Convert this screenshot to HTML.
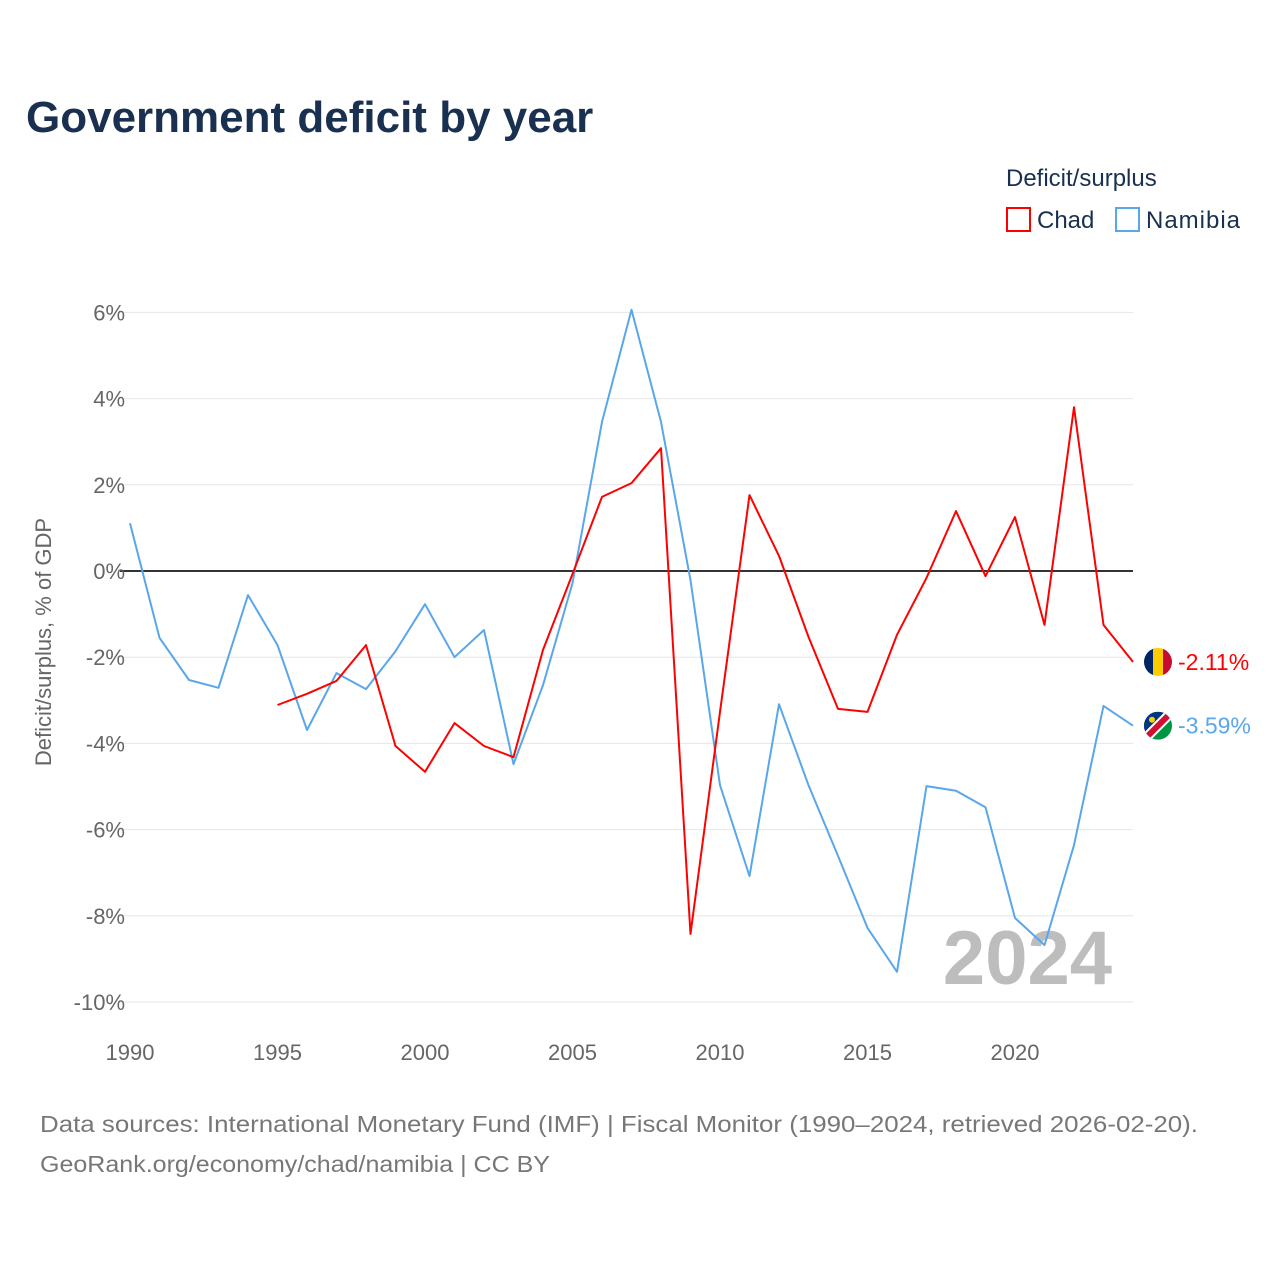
<!DOCTYPE html>
<html><head><meta charset="utf-8"><style>
body{margin:0;background:#fff;}
svg text{font-family:"Liberation Sans",sans-serif;}
</style></head><body>
<svg id="chart" width="1280" height="1280" xmlns="http://www.w3.org/2000/svg">
<rect width="1280" height="1280" fill="#fff"/>
<text x="26" y="132" font-size="44" font-weight="bold" fill="#1a3050">Government deficit by year</text>
<g>
<text x="1006" y="186" font-size="24" fill="#1a3050">Deficit/surplus</text>
<g><rect x="1007" y="208" width="23" height="23" fill="none" stroke="#f00" stroke-width="2"/><text x="1037" y="228" font-size="24" fill="#1a3050">Chad</text></g>
<g><rect x="1116" y="208" width="23" height="23" fill="none" stroke="#5aa6ea" stroke-width="2"/><text x="1146" y="228" font-size="24" fill="#1a3050" textLength="94">Namibia</text></g>
</g>
<g id="grid"></g>
<text x="1112" y="984" font-size="76" font-weight="bold" fill="#bdbdbd" text-anchor="end">2024</text>
<g id="series"></g>
<text transform="translate(51,642) rotate(-90)" font-size="22" fill="#666" text-anchor="middle">Deficit/surplus, % of GDP</text>
<text x="40" y="1132" font-size="23" fill="#777" textLength="1158" lengthAdjust="spacingAndGlyphs">Data sources: International Monetary Fund (IMF) | Fiscal Monitor (1990–2024, retrieved 2026-02-20).</text>
<text x="40" y="1172" font-size="23" fill="#777" textLength="510" lengthAdjust="spacingAndGlyphs">GeoRank.org/economy/chad/namibia | CC BY</text>
</svg>
<script>
const years=[1990,1991,1992,1993,1994,1995,1996,1997,1998,1999,2000,2001,2002,2003,2004,2005,2006,2007,2008,2009,2010,2011,2012,2013,2014,2015,2016,2017,2018,2019,2020,2021,2022,2023,2024];
const namibiaValues=[1.11,-1.55,-2.53,-2.71,-0.56,-1.72,-3.69,-2.37,-2.74,-1.86,-0.77,-2.0,-1.37,-4.48,-2.65,-0.28,3.46,6.06,3.46,-0.21,-4.97,-7.08,-3.09,-4.97,-6.61,-8.28,-9.30,-4.99,-5.1,-5.48,-8.05,-8.68,-6.36,-3.13,-3.59];
const chadValues=[null,null,null,null,null,-3.11,-2.85,-2.55,-1.72,-4.06,-4.66,-3.53,-4.06,-4.32,-1.83,-0.07,1.72,2.04,2.85,-8.42,-3.27,1.76,0.35,-1.53,-3.2,-3.27,-1.48,-0.16,1.39,-0.12,1.25,-1.25,3.8,-1.25,-2.11];
const yTicks=[6,4,2,0,-2,-4,-6,-8,-10];
const xTicks=[1990,1995,2000,2005,2010,2015,2020];
const NS='http://www.w3.org/2000/svg';
const X=y=>130+(y-1990)*(1133-130)/34;
const Y=v=>571-v*43.1;
const grid=document.getElementById('grid'),series=document.getElementById('series');
function mk(tag,attrs,parent){const e=document.createElementNS(NS,tag);for(const k in attrs)e.setAttribute(k,attrs[k]);parent.appendChild(e);return e;}
yTicks.forEach(t=>{
 const l=mk('line',{x1:120,x2:1133,y1:Y(t),y2:Y(t),stroke:t===0?'#333':'#e6e6e6','stroke-width':t===0?2:1},grid);
 
 
 const tx=mk('text',{x:125,y:Y(t)+8,'font-size':22,fill:'#666','text-anchor':'end'},grid);
 tx.textContent=t+'%';
 
 
});
xTicks.forEach(t=>{
 const tx=mk('text',{x:X(t),y:1060,'font-size':22,fill:'#666','text-anchor':'middle'},grid);
 tx.textContent=t;
 
 
});
function line(vals,color,name){
 let d='';let started=false;
 vals.forEach((v,i)=>{if(v===null)return;d+=(started?'L':'M')+X(years[i]).toFixed(1)+','+Y(v).toFixed(1);started=true;});
 const p=mk('path',{d:d,fill:'none',stroke:color,'stroke-width':2,'stroke-linejoin':'round'},series);
 
 
}
line(namibiaValues,'#5aa6ea','namibia-line');
line(chadValues,'#ff0000','chad-line');
const cx=X(2024)+25;
const cv=chadValues[chadValues.length-1],nv=namibiaValues[namibiaValues.length-1];
const defs=mk('defs',{},series);
const cp1=mk('clipPath',{id:'c1'},defs);mk('circle',{cx:cx,cy:Y(cv),r:14},cp1);
const cp2=mk('clipPath',{id:'c2'},defs);mk('circle',{cx:cx,cy:Y(nv),r:14},cp2);
const f1=mk('g',{'clip-path':'url(#c1)'},series);


mk('rect',{x:cx-14,y:Y(cv)-14,width:10,height:28,fill:'#002664'},f1);
mk('rect',{x:cx-5,y:Y(cv)-14,width:10,height:28,fill:'#fecb00'},f1);
mk('rect',{x:cx+5,y:Y(cv)-14,width:10,height:28,fill:'#c60c30'},f1);
const f2=mk('g',{'clip-path':'url(#c2)'},series);


const ny=Y(nv);
mk('rect',{x:cx-14,y:ny-14,width:28,height:28,fill:'#009543'},f2);
mk('polygon',{points:`${cx-14},${ny-14} ${cx+14},${ny-14} ${cx-14},${ny+14}`,fill:'#003580'},f2);
mk('line',{x1:cx-14,y1:ny+14,x2:cx+14,y2:ny-14,stroke:'#fff','stroke-width':10},f2);
mk('line',{x1:cx-14,y1:ny+14,x2:cx+14,y2:ny-14,stroke:'#d21034','stroke-width':6},f2);
mk('circle',{cx:cx-6,cy:ny-6,r:3,fill:'#ffce00'},f2);
const t1=mk('text',{x:cx+20,y:Y(cv)+8,'font-size':23,fill:'#f00'},series);
t1.textContent=cv.toFixed(2)+'%';


const t2=mk('text',{x:cx+20,y:ny+8,'font-size':23,fill:'#5aa6ea'},series);
t2.textContent=nv.toFixed(2)+'%';


</script>
</body></html>
